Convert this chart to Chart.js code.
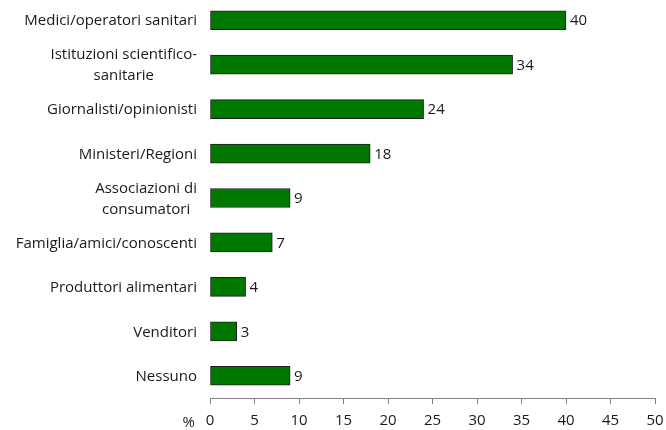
<!DOCTYPE html>
<html>
<head>
<meta charset="utf-8">
<script src="https://cdn.jsdelivr.net/npm/chart.js@4"></script>
<style>
  html, body { margin: 0; padding: 0; background: #fff; overflow: hidden; }
  #wrap { width: 666px; height: 430px; overflow: hidden; }
  #myChart { display: block; position: relative; top: -2px; }
</style>
</head>
<body>
<div id="wrap"><canvas id="myChart" width="666" height="432"></canvas></div>
<script>
// categories (multi-line ones are split into lines)
const categories = [
    ['Medici/operatori sanitari'],
    ['Istituzioni scientifico-', 'sanitarie'],
    ['Giornalisti/opinionisti'],
    ['Ministeri/Regioni'],
    ['Associazioni di', 'consumatori'],
    ['Famiglia/amici/conoscenti'],
    ['Produttori alimentari'],
    ['Venditori'],
    ['Nessuno']
];
const values = [40, 34, 24, 18, 9, 7, 4, 3, 9];
const xTicks = [0, 5, 10, 15, 20, 25, 30, 35, 40, 45, 50];
const unitLabel = '%';

const FONT = '"Open Sans", sans-serif';
const FONT_SIZE = 15;
const TEXT = '#1a1a1a';

// draws the value next to each bar, the category labels and the % sign
const labelsPlugin = {
    id: 'labelsPlugin',
    afterDraw(chart) {
        const ctx = chart.ctx;
        const meta = chart.getDatasetMeta(0);
        const yScale = chart.scales.y;
        const xScale = chart.scales.x;
        ctx.save();
        ctx.font = FONT_SIZE + 'px ' + FONT;
        ctx.fillStyle = TEXT;
        ctx.textBaseline = 'middle';

        // values at the end of the bars
        ctx.textAlign = 'left';
        meta.data.forEach((bar, i) => {
            ctx.fillText(String(values[i]), bar.x + 4, bar.y + 1);
        });

        // category labels, lines centred on each other, block right aligned
        const rightX = xScale.left - 13;
        ctx.textAlign = 'center';
        categories.forEach((lines, i) => {
            const y = yScale.getPixelForValue(i);
            const w = Math.max(...lines.map(l => ctx.measureText(l).width));
            const cx = rightX - w / 2;
            const lh = 21;
            lines.forEach((line, j) => {
                ctx.fillText(line, cx, y + 1 + (j - (lines.length - 1) / 2) * lh);
            });
        });

        // % sign at the left of the x tick labels
        ctx.textAlign = 'right';
        ctx.fillText(unitLabel, xScale.left - 15, xScale.top + 25);
        ctx.restore();
    }
};

new Chart(document.getElementById('myChart'), {
    type: 'bar',
    data: {
        labels: categories.map(l => l.join(' ')),
        datasets: [{
            data: values,
            backgroundColor: '#007800',
            borderColor: '#1e1e1e',
            borderWidth: 1,
            borderSkipped: false,
            barThickness: 19
        }]
    },
    options: {
        indexAxis: 'y',
        responsive: false,
        animation: false,
        events: [],
        layout: { padding: { left: 210, right: 11, top: 0, bottom: -8 } },
        plugins: {
            legend: { display: false },
            tooltip: { enabled: false }
        },
        scales: {
            x: {
                min: 0,
                max: 50,
                afterBuildTicks: (axis) => { axis.ticks = xTicks.map(v => ({ value: v })); },
                afterFit: (axis) => { axis.paddingRight = 0; axis.paddingLeft = 0; },
                grid: { drawOnChartArea: false, drawTicks: true, tickLength: 6, color: '#808080' },
                border: { display: true, color: '#808080', width: 1 },
                ticks: { color: TEXT, font: { family: FONT, size: FONT_SIZE }, padding: 8, maxRotation: 0 }
            },
            y: {
                afterFit: (axis) => { axis.width = 0; },
                grid: { display: false },
                border: { display: false },
                ticks: { display: false }
            }
        }
    },
    plugins: [labelsPlugin]
});
</script>
</body>
</html>
